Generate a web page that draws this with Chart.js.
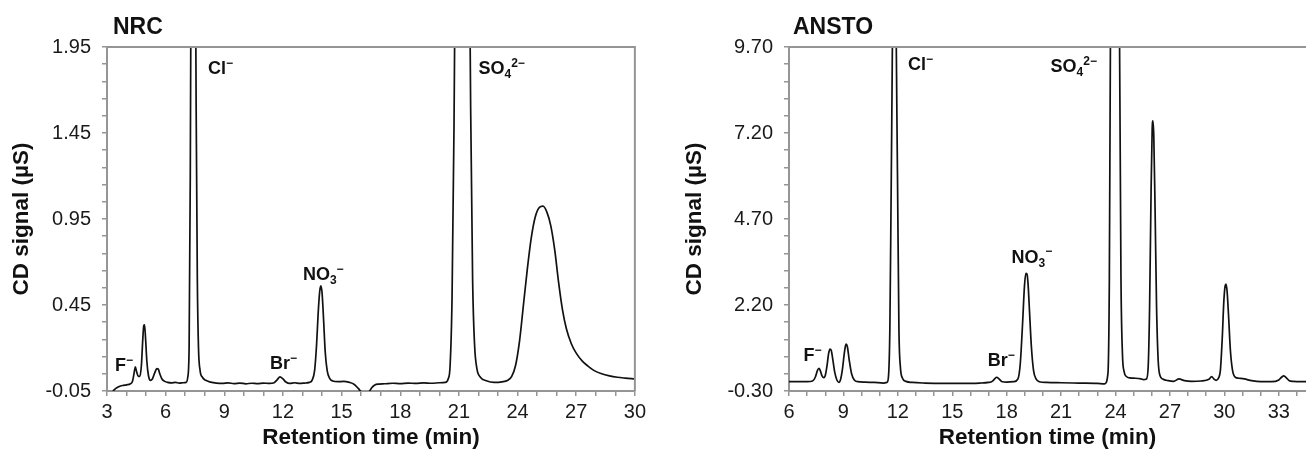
<!DOCTYPE html>
<html><head><meta charset="utf-8">
<script src="https://cdn.jsdelivr.net/npm/chart.js@4.4.1/dist/chart.umd.min.js"></script>
<style>
html,body{margin:0;padding:0;background:#fff;width:1306px;height:459px;overflow:hidden;position:relative;}
#c1{position:absolute;left:0;top:0;}
#c2{position:absolute;left:673px;top:0;}
</style></head><body>
<canvas id="c1" width="650" height="459"></canvas>
<canvas id="c2" width="633" height="459"></canvas>
<script>
// ---------- NRC chromatogram ----------
const nrcTime = [3.30,3.45,3.60,3.80,4.00,4.20,4.30,4.38,4.45,4.52,4.60,4.68,4.76,4.83,4.88,4.92,4.97,5.04,5.12,5.22,5.32,5.44,5.55,5.62,5.70,5.82,5.95,6.10,6.30,6.50,6.70,6.90,7.05,7.13,7.20,7.26,7.32,7.42,7.50,7.56,7.62,7.68,7.76,7.88,8.05,8.30,8.60,8.90,9.20,9.50,9.80,10.10,10.40,10.70,11.00,11.30,11.55,11.70,11.85,12.00,12.15,12.35,12.60,12.85,13.10,13.35,13.50,13.62,13.72,13.80,13.88,13.94,14.00,14.08,14.16,14.26,14.38,14.55,14.80,15.10,15.40,15.65,15.85,16.00,16.20,16.40,16.55,16.70,16.90,17.20,17.60,18.00,18.40,18.80,19.20,19.60,20.00,20.30,20.45,20.55,20.65,20.75,20.85,21.15,21.50,21.60,21.70,21.80,21.92,22.10,22.40,22.80,23.20,23.50,23.70,23.90,24.10,24.30,24.50,24.70,24.90,25.10,25.30,25.50,25.70,25.90,26.10,26.30,26.50,26.75,27.00,27.30,27.60,27.90,28.30,28.70,29.10,29.50,30.00];
const nrcSignal = [-0.05,-0.035,-0.025,-0.018,-0.014,-0.008,0.005,0.05,0.09,0.06,0.035,0.035,0.10,0.25,0.33,0.335,0.26,0.12,0.04,0.012,0.02,0.055,0.08,0.078,0.05,0.018,0.006,0.0,-0.003,0.0,-0.004,-0.002,0.0,0.03,0.2,1.2,3.0,4.0,3.0,1.6,0.6,0.2,0.07,0.03,0.012,0.002,-0.004,-0.006,-0.003,-0.007,-0.004,-0.008,-0.005,-0.007,-0.004,-0.006,-0.002,0.015,0.032,0.02,0.002,-0.006,-0.002,-0.006,-0.004,0.0,0.015,0.07,0.22,0.40,0.53,0.562,0.52,0.36,0.18,0.07,0.025,0.008,0.004,0.006,0.0,-0.012,-0.035,-0.055,-0.07,-0.055,-0.03,-0.015,-0.01,-0.008,-0.005,-0.007,-0.004,-0.006,-0.003,-0.005,-0.002,0.0,0.02,0.1,0.5,1.5,3.0,4.5,3.0,1.6,0.6,0.22,0.08,0.03,0.01,0.0,0.003,0.012,0.035,0.1,0.24,0.45,0.66,0.84,0.96,1.015,1.025,0.99,0.91,0.77,0.58,0.42,0.31,0.225,0.17,0.125,0.095,0.07,0.05,0.038,0.03,0.025,0.02];
const nrcXTickLabels = [3,6,9,12,15,18,21,24,27,30];
const nrcYTickLabels = [-0.05,0.45,0.95,1.45,1.95];
const nrcPeakNames = ['F^−','Cl^−','Br^−','NO_3^−','SO_4^2−'];

// ---------- ANSTO chromatogram ----------
const anstoTime = [6.00,6.50,7.00,7.30,7.45,7.57,7.65,7.72,7.82,7.92,8.00,8.10,8.18,8.26,8.33,8.42,8.52,8.64,8.75,8.85,8.95,9.05,9.14,9.22,9.32,9.45,9.60,9.80,10.20,10.70,11.20,11.40,11.48,11.56,11.64,11.80,11.98,12.06,12.14,12.25,12.45,12.80,13.50,14.50,15.50,16.50,17.00,17.20,17.35,17.45,17.58,17.75,18.00,18.40,18.62,18.75,18.88,18.98,19.06,19.12,19.18,19.26,19.36,19.48,19.62,19.80,20.20,21.00,22.00,23.00,23.40,23.58,23.66,23.72,23.95,24.22,24.30,24.38,24.48,24.60,24.80,25.10,25.40,25.55,25.70,25.80,25.88,25.96,26.02,26.06,26.11,26.18,26.26,26.35,26.45,26.60,26.90,27.20,27.50,27.80,28.20,28.70,29.15,29.30,29.42,29.55,29.68,29.78,29.88,29.97,30.04,30.09,30.15,30.23,30.33,30.45,30.60,30.80,31.10,31.50,32.00,32.60,33.00,33.15,33.28,33.42,33.58,33.80,34.20,34.60];
const anstoSignal = [-0.03,-0.03,-0.03,-0.01,0.1,0.3,0.36,0.3,0.14,0.09,0.15,0.45,0.78,0.92,0.88,0.6,0.25,0.02,-0.05,0.05,0.35,0.8,1.06,0.98,0.6,0.2,0.02,-0.03,-0.04,-0.05,-0.07,-0.05,0.1,1.5,6,14,6,1.5,0.4,0.08,-0.02,-0.05,-0.07,-0.08,-0.08,-0.07,-0.05,-0.02,0.06,0.1,0.05,-0.03,-0.04,-0.03,0.05,0.5,1.7,2.75,3.12,3.1,2.8,2.0,1.0,0.3,0.05,-0.03,-0.05,-0.06,-0.07,-0.08,-0.09,0.2,3,10,16,10,3,0.8,0.25,0.12,0.08,0.07,0.05,0.03,0.05,0.4,2.2,5.5,7.3,7.55,7.1,5.0,2.2,0.6,0.15,0.05,0.0,-0.02,0.05,0.0,-0.02,-0.01,0.04,0.12,0.05,0.01,0.08,0.3,1.2,2.3,2.75,2.81,2.6,1.9,0.9,0.3,0.1,0.07,0.05,0.0,-0.03,-0.03,0.02,0.1,0.14,0.08,0.0,-0.02,-0.03,-0.03];
const anstoXTickLabels = [6,9,12,15,18,21,24,27,30,33];
const anstoYTickLabels = [-0.30,2.20,4.70,7.20,9.70];
const anstoPeakNames = ['F^−','Cl^−','Br^−','NO_3^−','SO_4^2−'];

// ---------- annotation anchors (data coordinates of label baselines) ----------
const nrcLabelAnchors = {x:[3.41,8.17,11.34,13.02,22.0], y:[0.067,1.793,0.078,0.597,1.793]};
const anstoLabelAnchors = {x:[6.8,12.56,16.96,18.27,20.42], y:[0.575,9.03,0.43,3.43,8.97]};

const FONT = '"Liberation Sans", Arial, Helvetica, sans-serif';
Chart.defaults.font.family = FONT;
Chart.defaults.color = '#1a1a1a';
const AXIS = '#959595';

function parts(s){
  const out=[]; const re=/([^_^]+)|_([^_^]+)|\^([^_^]+)/g; let m;
  while((m=re.exec(s))){ if(m[1]) out.push({t:m[1]}); else if(m[2]) out.push({t:m[2],sub:1}); else out.push({t:m[3],sup:1}); }
  return out;
}
function drawRich(ctx, x, y, s, size){
  let cx = x;
  for (const p of parts(s)) {
    const fs = (p.sub||p.sup) ? Math.round(size*0.68) : size;
    ctx.font = 'bold ' + fs + 'px ' + FONT;
    const dy = p.sub ? size*0.22 : (p.sup ? -size*0.40 : 0);
    ctx.fillText(p.t, cx, y + dy);
    cx += ctx.measureText(p.t).width;
  }
}

const decor = {
  id: 'decor',
  afterDraw(chart, args, o) {
    const {ctx, chartArea: a, scales} = chart;
    ctx.save();
    ctx.strokeStyle = AXIS; ctx.lineWidth = 2;
    ctx.beginPath();
    ctx.moveTo(a.left, a.top); ctx.lineTo(a.right + (o.rightBorder?1:0), a.top);
    if (o.rightBorder) { ctx.moveTo(a.right, a.top); ctx.lineTo(a.right, a.bottom); }
    ctx.stroke();
    ctx.fillStyle = '#111';
    ctx.textBaseline = 'alphabetic';
    ctx.textAlign = 'left';
    ctx.font = 'bold 23px ' + FONT;
    ctx.fillText(o.title, a.left + o.titleDx, 34);
    o.names.forEach((n, i) => {
      drawRich(ctx, scales.x.getPixelForValue(o.anchors.x[i]), scales.y.getPixelForValue(o.anchors.y[i]), n, 18);
    });
    ctx.restore();
  }
};

function make(id, time, sig, xMin, xMax, xLabels, yMin, yMax, yStep, yLabels, yWidth, padRight, title, titleDx, names, anchors, rightBorder){
  const canvas = document.getElementById(id);
  return new Chart(canvas, {
    type: 'line',
    data: { datasets: [{
      data: time.map((t,i)=>({x:t, y:sig[i]})),
      borderColor: '#111', borderWidth: 1.7, pointRadius: 0,
      cubicInterpolationMode: 'monotone', fill: false
    }]},
    options: {
      responsive: false, animation: false, devicePixelRatio: 1,
      layout: { padding: { top: 47, right: padRight, left: 0, bottom: 0 } },
      plugins: { legend: {display:false}, tooltip: {enabled:false},
        decor: { title, titleDx, names, anchors, rightBorder } },
      scales: {
        x: {
          type: 'linear', min: xMin, max: xMax,
          afterBuildTicks: s => { const t=[]; for (let v=Math.ceil(xMin); v<=xMax+1e-9; v++) t.push({value:v}); s.ticks=t; },
          afterFit: s => { s.height = 68; },
          ticks: { autoSkip:false, maxRotation:0, padding: 4, font:{size:20}, color:'#1a1a1a',
            callback: v => xLabels.includes(v) ? String(v) : '' },
          grid: { drawOnChartArea:false, drawTicks:true, tickLength:5, color: AXIS, tickColor: AXIS, lineWidth:1.5 },
          border: { color: AXIS, width: 2 },
          title: { display:true, text:'Retention time (min)', font:{size:22.5, weight:'bold'}, color:'#111', padding:{top:0,bottom:8} }
        },
        y: {
          type: 'linear', min: yMin, max: yMax,
          afterBuildTicks: s => { const t=[]; const n=Math.round((yMax-yMin)/yStep); for (let k=0;k<=n;k++) t.push({value:+(yMin+k*yStep).toFixed(4)}); s.ticks=t; },
          afterFit: s => { s.width = yWidth; },
          ticks: { autoSkip:false, padding: 11, font:{size:20}, color:'#1a1a1a',
            callback: v => yLabels.some(l => Math.abs(l-v)<1e-6) ? v.toFixed(2) : '' },
          grid: { drawOnChartArea:false, drawTicks:true, tickLength:5, color: AXIS, tickColor: AXIS, lineWidth:1.5 },
          border: { color: AXIS, width: 2 },
          title: { display:true, text:'CD signal (µS)', font:{size:22.5, weight:'bold'}, color:'#111', padding:{top:8,bottom:0} }
        }
      }
    },
    plugins: [decor]
  });
}

make('c1', nrcTime, nrcSignal, 3, 30, nrcXTickLabels, -0.05, 1.95, 0.1, nrcYTickLabels, 107, 12, 'NRC', 6, nrcPeakNames, nrcLabelAnchors, true);
make('c2', anstoTime, anstoSignal, 6, 34.5, anstoXTickLabels, -0.30, 9.70, 0.5, anstoYTickLabels, 116, 0, 'ANSTO', 4, anstoPeakNames, anstoLabelAnchors, false);
</script></body></html>
